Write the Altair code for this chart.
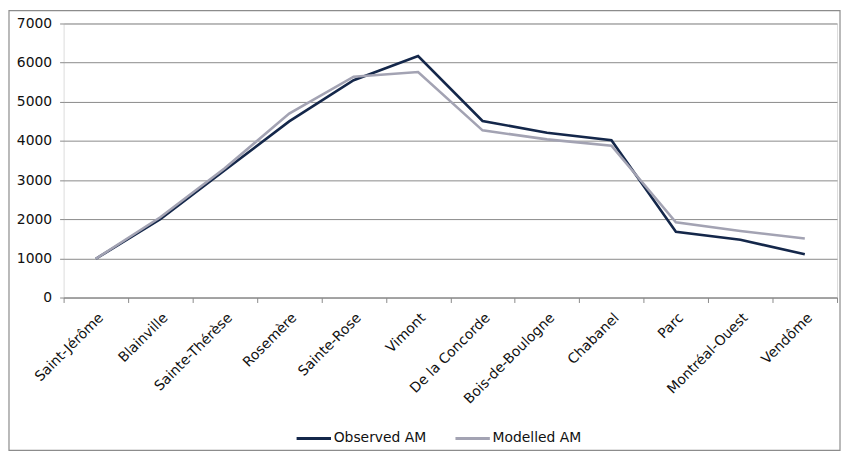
import altair as alt
import pandas as pd

stations = ["Saint-Jérôme", "Blainville", "Sainte-Thérèse", "Rosemère", "Sainte-Rose",
            "Vimont", "De la Concorde", "Bois-de-Boulogne", "Chabanel", "Parc",
            "Montréal-Ouest", "Vendôme"]
observed = [990, 2000, 3250, 4500, 5550, 6170, 4510, 4210, 4020, 1680, 1475, 1105]
modelled = [990, 2050, 3300, 4700, 5640, 5760, 4270, 4040, 3880, 1920, 1700, 1510]
series = ["Observed AM", "Modelled AM"]
colors = ["#14274a", "#a3a3b3"]

rows = []
for i, s in enumerate(stations):
    rows.append({"station": s, "series": series[0], "value": observed[i], "order": i})
    rows.append({"station": s, "series": series[1], "value": modelled[i], "order": i})
df = pd.DataFrame(rows)

FONT = "DejaVu Sans"

lines = alt.Chart(df).mark_line(strokeWidth=2.6).encode(
    x=alt.X("station:N", sort=stations, scale=alt.Scale(domain=stations, paddingInner=0, paddingOuter=0),
            axis=alt.Axis(title=None, labelAngle=-45, labelFontSize=14, labelFont=FONT,
                          labelColor="#111111", tickBand="extent", tickSize=5,
                          tickColor="#8a8a8a", domainColor="#8a8a8a", labelPadding=8,
                          grid=False, labelOverlap=False)),
    y=alt.Y("value:Q", scale=alt.Scale(domain=[0, 7000], nice=False),
            axis=alt.Axis(title=None, values=[0, 1000, 2000, 3000, 4000, 5000, 6000, 7000],
                          format="d", labelFontSize=14, labelFont=FONT, labelColor="#111111",
                          tickSize=4, tickColor="#8a8a8a", domain=False, grid=True,
                          gridColor="#8a8a8a", gridWidth=1, labelPadding=8)),
    color=alt.Color("series:N", scale=alt.Scale(domain=series, range=colors),
                    legend=alt.Legend(title=None, orient="none", legendX=233, legendY=399,
                                      direction="horizontal", symbolType="stroke",
                                      symbolSize=1200, symbolStrokeWidth=3,
                                      labelFontSize=14, labelFont=FONT, labelColor="#111111",
                                      labelOffset=1, columnPadding=22)),
    order=alt.Order("order:Q"),
)

border = alt.Chart(pd.DataFrame({"a": [0]})).mark_rect(
    filled=False, stroke="#8c8c8c", strokeWidth=1.2
).encode(x=alt.value(-55), x2=alt.value(782), y=alt.value(-13), y2=alt.value(430))

chart = alt.layer(border, lines).properties(
    width=779, height=276,
    autosize=alt.AutoSizeParams(type="none"),
    padding={"left": 56, "top": 14, "right": 4, "bottom": 156},
).configure_view(stroke=None).configure(background="white")

chart.save("out.html", embed_options={"renderer": "svg", "actions": False})
